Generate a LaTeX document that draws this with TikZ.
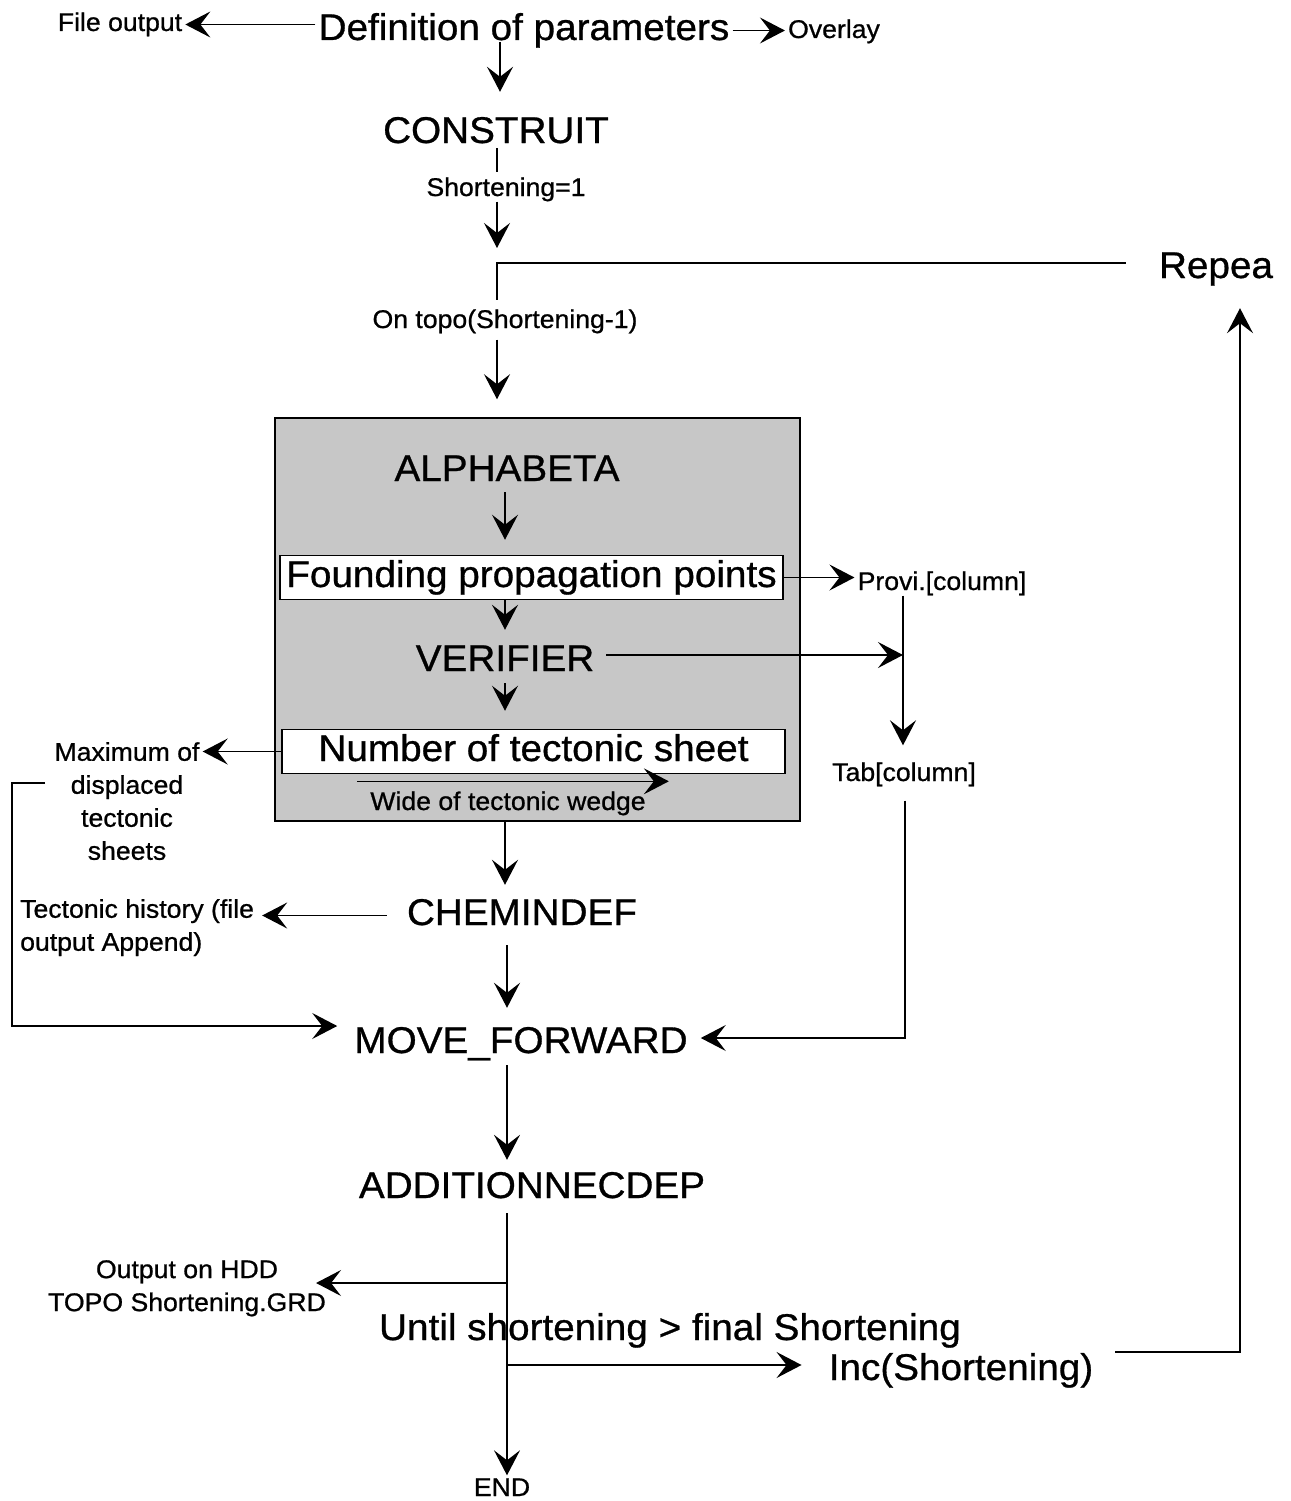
\documentclass[tikz,border=0pt]{standalone}
\usepackage{fontspec}
\setmainfont{Liberation Sans}[FakeStretch=1.04, BoldFont=Liberation Sans, BoldFeatures={FakeBold=0.8}]
\usetikzlibrary{arrows.meta,calc}
\newcommand\bigtxt{\fontsize{37.2}{45}\selectfont\bfseries}
\newcommand\smalltxt{\fontsize{25.6}{33}\selectfont\bfseries}
\begin{document}
\begin{tikzpicture}[x=1pt,y=-1pt,
  big/.style={font=\bigtxt, inner xsep=3pt, inner ysep=0pt, text height=27pt, text depth=8pt},
  small/.style={font=\smalltxt, inner xsep=3pt, inner ysep=0pt, text height=18.5pt, text depth=5.5pt},
  multi/.style={font=\smalltxt, inner sep=0pt, align=center},
  wbox/.style={draw, line width=1.5pt, fill=white, minimum width=503pt, minimum height=44pt,
    inner sep=0pt, font=\bigtxt, text height=27pt, text depth=8pt},
  corebox/.style={draw, line width=1.5pt, fill=black!22, inner sep=0pt},
  line/.style={line width=1.3pt},
  arr/.style={line width=1.3pt, -{Stealth[length=25pt,width=26pt,inset=10pt]}}]
\useasboundingbox (0,0) rectangle (1290,1501);

% columns of the vertical flow and junction points
\coordinate (colA) at (500,0);
\coordinate (colB) at (497,0);
\coordinate (colC) at (505,0);
\coordinate (colD) at (507,0);
\coordinate (loopc) at (497,263);
\coordinate (vj) at (903,655);
\coordinate (tj) at (905,1038);
\coordinate (lr1) at (45,783);
\coordinate (lr2) at (12,783);
\coordinate (lr3) at (12,1026);
\coordinate (sp1) at (507,1283);
\coordinate (sp2) at (507,1365);
\coordinate (rc) at (1240,1352);

% texts
\node[big, anchor=base] (def) at (524,40) {Definition of parameters};
\node[small, anchor=base] (fileout) at (120,31) {File output};
\node[small, anchor=base] (overlay) at (834,38) {Overlay};
\node[big, anchor=base] (construit) at (496,143) {CONSTRUIT};
\node[small, anchor=base] (short1) at (506,196) {Shortening=1};
\node[big, anchor=base] (repea) at (1216,278) {Repea};
\node[small, anchor=base] (ontopo) at (505,328) {On topo(Shortening-1)};

% shaded block
\node[corebox, minimum width=525pt, minimum height=403pt] (core) at (537.5,619.5) {};
\node[big, anchor=base] (alpha) at (507,481) {ALPHABETA};
\node[wbox] (found) at (531.5,577.5) {Founding propagation points};
\node[big, anchor=base] (verif) at (505,671) {VERIFIER};
\node[wbox] (num) at (533.5,751.5) {Number of tectonic sheet};
\node[small, anchor=base] (wide) at (508,810) {Wide of tectonic wedge};

\node[small, anchor=base] (provi) at (942,590) {Provi.[column]};
\node[small, anchor=base] (tab) at (904,781) {Tab[column]};
\node[multi, anchor=north] (maxd) at (127,742) {Maximum of\\displaced\\tectonic\\sheets};
\node[big, anchor=base] (chem) at (522,925) {CHEMINDEF};
\node[multi, align=left, anchor=north west] (hist) at (20,899) {Tectonic history (file\\output Append)};
\node[big, anchor=base] (move) at (521,1053) {MOVE\_FORWARD};
\node[big, anchor=base] (addit) at (532,1198) {ADDITIONNECDEP};
\node[multi, anchor=north] (hdd) at (187,1260) {Output on HDD\\TOPO Shortening.GRD};
\node[big, anchor=base] (until) at (670,1340) {Until shortening > final Shortening};
\node[big, anchor=base] (inc) at (961,1380) {Inc(Shortening)};
\node[small, anchor=base] (endn) at (502,1496) {END};

% connectors: top part
\draw[arr] (fileout.east -| def.west) -- (fileout.east);
\draw[arr] (def.east) -- (overlay.west |- def.east);
\draw[arr, shorten <=-6pt, shorten >=24pt] (def.south -| colA) -- (construit.north -| colA);
\draw[line, shorten <=-3pt, shorten >=5pt] (construit.south -| colB) -- (short1.north -| colB);
\draw[arr, shorten >=15pt] (short1.south -| colB) -- (loopc);
\draw[line, shorten <=30pt, shorten >=9pt] (loopc -| repea.west) -- (loopc) -- (ontopo.north -| loopc);
\draw[arr, shorten <=6pt, shorten >=18pt] (ontopo.south -| colB) -- (core.north -| colB);

% connectors: inside the shaded block
\draw[arr, shorten <=3pt, shorten >=15pt] (alpha.south -| colC) -- (found.north -| colC);
\draw[arr, shorten >=14pt] (found.south -| colC) -- (verif.north -| colC);
\draw[arr, shorten <=4pt, shorten >=18pt] (verif.south -| colC) -- (num.north -| colC);
\draw[arr] ([yshift=10pt,xshift=-10pt]wide.north west) -- ([yshift=10pt,xshift=20pt]wide.north east);

% connectors: right branch
\draw[arr] (found.east) -- (provi.west |- found.east);
\draw[arr, shorten <=9pt] (verif.east |- vj) -- (vj);
\draw[arr, shorten >=17pt] (provi.south -| vj) -- (tab.north -| vj);
\draw[arr, shorten <=14pt, shorten >=10pt] (tab.south -| tj) -- (tj) -- (move.east |- tj);

% connectors: left branch
\draw[arr, shorten >=3pt] (num.west) -- (num.west -| maxd.east);
\draw[arr, shorten >=14pt] (lr1) -- (lr2) -- (lr3) -- (move.west |- lr3);
\draw[arr, shorten <=17pt, shorten >=8pt] (chem.west) -- (chem.west -| hist.east);

% connectors: lower part
\draw[arr, shorten >=13pt] (core.south -| colC) -- (chem.north -| colC);
\draw[arr, shorten <=12pt, shorten >=18pt] (chem.south -| colD) -- (move.north -| colD);
\draw[arr, shorten <=4pt, shorten >=11pt] (move.south -| colD) -- (addit.north -| colD);
\draw[arr, shorten <=7pt, shorten >=2pt] (addit.south -| colD) -- (endn.north -| colD);
\draw[arr, shorten >=-10pt] (sp1) -- (hdd.east |- sp1);
\draw[arr, shorten >=24pt] (sp2) -- (inc.west |- sp2);
\draw[arr, shorten <=19pt, shorten >=22pt] (inc.east |- rc) -- (rc) -- (rc |- repea.south);
\end{tikzpicture}
\end{document}
